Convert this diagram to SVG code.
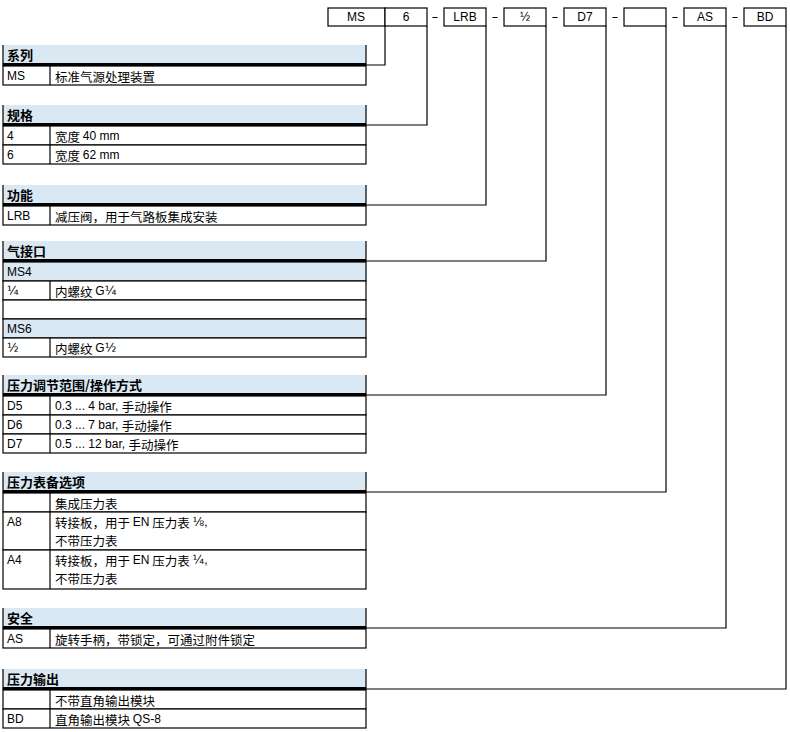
<svg xmlns="http://www.w3.org/2000/svg" width="790" height="732" viewBox="0 0 790 732">
<style>
.hb{fill:#d9e8f3}
.sb{fill:#000}
.ln{fill:none;stroke:#000;stroke-width:1.2}
.row{fill:#fff;stroke:#000;stroke-width:1.2}
.rowb{fill:#d9e8f3;stroke:#000;stroke-width:1.2}
.ht{font-family:"Noto Sans CJK SC",sans-serif;font-weight:bold;font-size:13px;fill:#000;dominant-baseline:central}
.ct{font-family:"Liberation Sans","Noto Sans CJK SC",sans-serif;font-size:12px;fill:#000;dominant-baseline:central}
.dt{font-family:"Noto Sans CJK SC",sans-serif;font-size:12.5px;fill:#000;dominant-baseline:central}
.lt{font-family:"Liberation Sans",sans-serif;font-size:12px}
.fr{font-family:"DejaVu Sans",sans-serif;font-size:12px}
.bx{fill:#fff;stroke:#000;stroke-width:1.2}
.bt{font-family:"Liberation Sans",sans-serif;font-size:12px;fill:#000;text-anchor:middle;dominant-baseline:central}
.cn{fill:none;stroke:#000;stroke-width:1.2}
</style>

<g id="code">
<rect class="bx" x="328" y="8" width="57" height="18"/>
<rect class="bx" x="385" y="8" width="42" height="18"/>
<rect class="bx" x="444" y="8" width="42" height="18"/>
<rect class="bx" x="504" y="8" width="42" height="18"/>
<rect class="bx" x="564" y="8" width="42" height="18"/>
<rect class="bx" x="624" y="8" width="42" height="18"/>
<rect class="bx" x="684" y="8" width="42" height="18"/>
<rect class="bx" x="744" y="8" width="42" height="18"/>
<text class="bt" x="356" y="17">MS</text>
<text class="bt" x="406" y="17">6</text>
<text class="bt" x="465" y="17">LRB</text>
<text class="bt fr" x="525" y="17">½</text>
<text class="bt" x="585" y="17">D7</text>
<text class="bt" x="705" y="17">AS</text>
<text class="bt" x="765" y="17">BD</text>
<path class="ln" d="M432.5,17.5h5M492.5,17.5h5M552.5,17.5h5M612.5,17.5h5M672.5,17.5h5M732.5,17.5h5"/>
</g>

<g id="connectors">
<path class="cn" d="M385,26V65H366"/>
<path class="cn" d="M427,26V125H366"/>
<path class="cn" d="M486,26V205H366"/>
<path class="cn" d="M546,26V261H366"/>
<path class="cn" d="M606,26V395H366"/>
<path class="cn" d="M666,26V492H366"/>
<path class="cn" d="M726,26V628H366"/>
<path class="cn" d="M786,26V689H366"/>
</g>

<g id="series">
<rect class="hb" x="3" y="45" width="363" height="18"/>
<path class="ln" d="M3,45V63M366,45V63"/>
<rect class="sb" x="2.4" y="63" width="364.2" height="3"/>
<rect class="row" x="3" y="66" width="363" height="19"/>
<path class="ln" d="M50,66V85"/>
<text class="ht" x="7" y="54.5">系列</text>
<text class="ct" x="7" y="76">MS</text>
<text class="dt" x="55" y="76">标准气源处理装置</text>
</g>

<g id="size">
<rect class="hb" x="3" y="105" width="363" height="18"/>
<path class="ln" d="M3,105V123M366,105V123"/>
<rect class="sb" x="2.4" y="123" width="364.2" height="3"/>
<rect class="row" x="3" y="126" width="363" height="19"/>
<rect class="row" x="3" y="145" width="363" height="19"/>
<path class="ln" d="M50,126V164"/>
<text class="ht" x="7" y="114.5">规格</text>
<text class="ct" x="7" y="136">4</text>
<text class="dt" x="55" y="136">宽度 <tspan class="lt">40 mm</tspan></text>
<text class="ct" x="7" y="155">6</text>
<text class="dt" x="55" y="155">宽度 <tspan class="lt">62 mm</tspan></text>
</g>

<g id="function">
<rect class="hb" x="3" y="185" width="363" height="18"/>
<path class="ln" d="M3,185V203M366,185V203"/>
<rect class="sb" x="2.4" y="203" width="364.2" height="3"/>
<rect class="row" x="3" y="206" width="363" height="19"/>
<path class="ln" d="M50,206V225"/>
<text class="ht" x="7" y="194.5">功能</text>
<text class="ct" x="7" y="216">LRB</text>
<text class="dt" x="55" y="216">减压阀，用于气路板集成安装</text>
</g>

<g id="port">
<rect class="hb" x="3" y="241" width="363" height="18"/>
<path class="ln" d="M3,241V259M366,241V259"/>
<rect class="sb" x="2.4" y="259" width="364.2" height="3"/>
<rect class="rowb" x="3" y="262" width="363" height="19"/>
<rect class="row" x="3" y="281" width="363" height="19"/>
<rect class="row" x="3" y="300" width="363" height="19"/>
<rect class="rowb" x="3" y="319" width="363" height="19"/>
<rect class="row" x="3" y="338" width="363" height="19"/>
<path class="ln" d="M50,281V300M50,338V357"/>
<text class="ht" x="7" y="250.5">气接口</text>
<text class="ct" x="7" y="272">MS4</text>
<text class="ct fr" x="7" y="291">¼</text>
<text class="dt" x="55" y="291">内螺纹 <tspan class="lt">G</tspan><tspan class="fr">¼</tspan></text>
<text class="ct" x="7" y="329">MS6</text>
<text class="ct fr" x="7" y="348">½</text>
<text class="dt" x="55" y="348">内螺纹 <tspan class="lt">G</tspan><tspan class="fr">½</tspan></text>
</g>

<g id="pressure-range">
<rect class="hb" x="3" y="375" width="363" height="18"/>
<path class="ln" d="M3,375V393M366,375V393"/>
<rect class="sb" x="2.4" y="393" width="364.2" height="3"/>
<rect class="row" x="3" y="396" width="363" height="19"/>
<rect class="row" x="3" y="415" width="363" height="19"/>
<rect class="row" x="3" y="434" width="363" height="19"/>
<path class="ln" d="M50,396V453"/>
<text class="ht" x="7" y="384.5">压力调节范围/操作方式</text>
<text class="ct" x="7" y="406">D5</text>
<text class="dt" x="55" y="406"><tspan class="lt">0.3 ... 4 bar, </tspan>手动操作</text>
<text class="ct" x="7" y="425">D6</text>
<text class="dt" x="55" y="425"><tspan class="lt">0.3 ... 7 bar, </tspan>手动操作</text>
<text class="ct" x="7" y="444">D7</text>
<text class="dt" x="55" y="444"><tspan class="lt">0.5 ... 12 bar, </tspan>手动操作</text>
</g>

<g id="gauge">
<rect class="hb" x="3" y="472" width="363" height="18"/>
<path class="ln" d="M3,472V490M366,472V490"/>
<rect class="sb" x="2.4" y="490" width="364.2" height="3"/>
<rect class="row" x="3" y="493" width="363" height="19"/>
<rect class="row" x="3" y="512" width="363" height="38"/>
<rect class="row" x="3" y="550" width="363" height="39"/>
<path class="ln" d="M50,493V589"/>
<text class="ht" x="7" y="481.5">压力表备选项</text>
<text class="dt" x="55" y="503">集成压力表</text>
<text class="ct" x="7" y="522">A8</text>
<text class="dt" x="55" y="522">转接板，用于 <tspan class="lt">EN</tspan> 压力表 <tspan class="fr">⅛</tspan><tspan class="lt">,</tspan></text>
<text class="dt" x="55" y="540">不带压力表</text>
<text class="ct" x="7" y="560">A4</text>
<text class="dt" x="55" y="560">转接板，用于 <tspan class="lt">EN</tspan> 压力表 <tspan class="fr">¼</tspan><tspan class="lt">,</tspan></text>
<text class="dt" x="55" y="578">不带压力表</text>
</g>

<g id="safety">
<rect class="hb" x="3" y="608" width="363" height="18"/>
<path class="ln" d="M3,608V626M366,608V626"/>
<rect class="sb" x="2.4" y="626" width="364.2" height="3"/>
<rect class="row" x="3" y="629" width="363" height="19"/>
<path class="ln" d="M50,629V648"/>
<text class="ht" x="7" y="617.5">安全</text>
<text class="ct" x="7" y="639">AS</text>
<text class="dt" x="55" y="639">旋转手柄，带锁定，可通过附件锁定</text>
</g>

<g id="pressure-output">
<rect class="hb" x="3" y="669" width="363" height="18"/>
<path class="ln" d="M3,669V687M366,669V687"/>
<rect class="sb" x="2.4" y="687" width="364.2" height="3"/>
<rect class="row" x="3" y="690" width="363" height="19"/>
<rect class="row" x="3" y="709" width="363" height="19"/>
<path class="ln" d="M50,690V728"/>
<text class="ht" x="7" y="678.5">压力输出</text>
<text class="dt" x="55" y="700">不带直角输出模块</text>
<text class="ct" x="7" y="719">BD</text>
<text class="dt" x="55" y="719">直角输出模块 <tspan class="lt">QS-8</tspan></text>
</g>
</svg>
